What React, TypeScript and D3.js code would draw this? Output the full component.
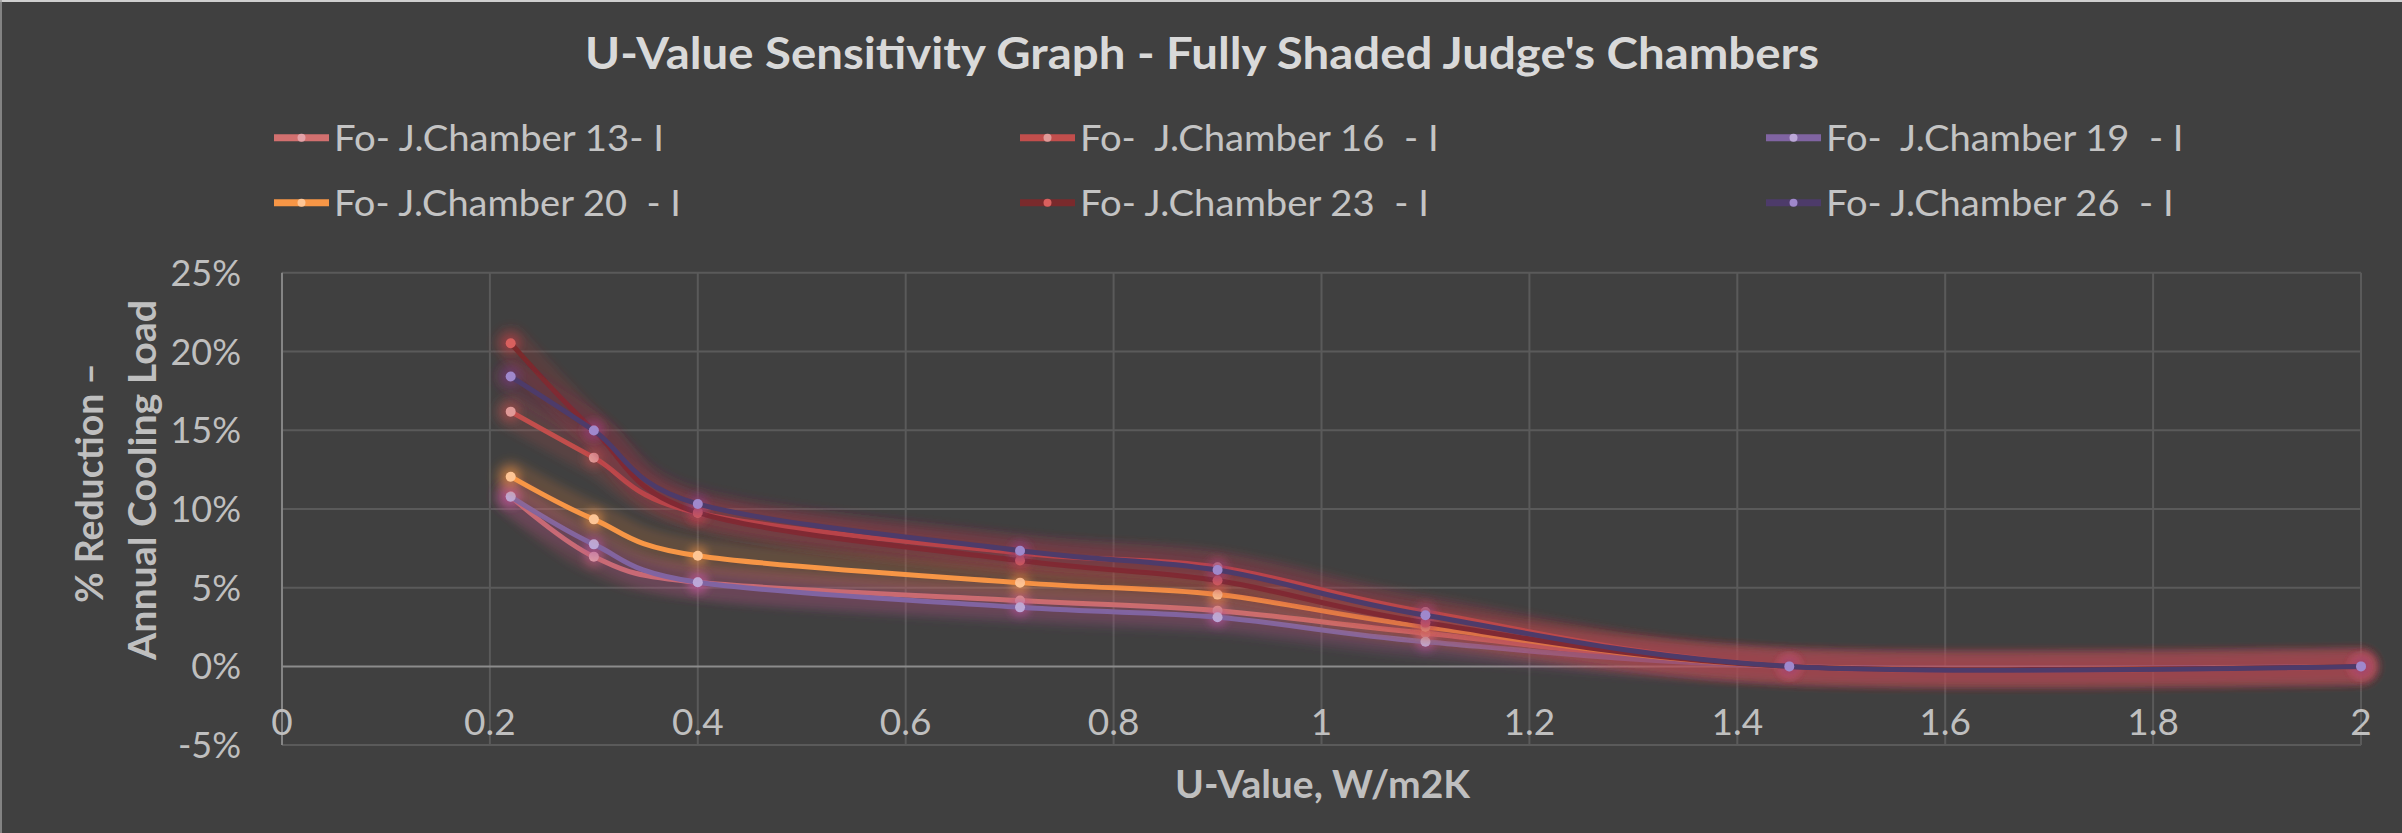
import React from 'react';
import * as d3 from 'd3';

const W = 2402;
const H = 833;

// ---- data ----
const uValues = [0.22, 0.3, 0.4, 0.71, 0.9, 1.1, 1.45, 2.0];
const seriesNames = [
  'Fo- J.Chamber 13- I',
  'Fo-  J.Chamber 16  - I',
  'Fo-  J.Chamber 19  - I',
  'Fo- J.Chamber 20  - I',
  'Fo- J.Chamber 23  - I',
  'Fo- J.Chamber 26  - I',
];
const ch13 = [10.8, 6.97, 5.34, 4.18, 3.54, 2.1, 0, 0];
const ch16 = [16.18, 13.26, 9.75, 7.2, 6.3, 3.45, 0, 0];
const ch19 = [10.78, 7.75, 5.34, 3.75, 3.12, 1.57, 0, 0];
const ch20 = [12.05, 9.34, 7.03, 5.32, 4.56, 2.52, 0, 0];
const ch23 = [20.53, 15.0, 9.77, 6.72, 5.45, 2.78, 0, 0];
const ch26 = [18.41, 14.98, 10.32, 7.35, 6.12, 3.25, 0, 0];
const seriesValues = [ch13, ch16, ch19, ch20, ch23, ch26];

const xTicks = [0, 0.2, 0.4, 0.6, 0.8, 1, 1.2, 1.4, 1.6, 1.8, 2];
const xTickLabels = ['0', '0.2', '0.4', '0.6', '0.8', '1', '1.2', '1.4', '1.6', '1.8', '2'];
const yTicks = [-5, 0, 5, 10, 15, 20, 25];
const yTickLabels = ['-5%', '0%', '5%', '10%', '15%', '20%', '25%'];

const titleText = "U-Value Sensitivity Graph - Fully Shaded Judge's Chambers";
const xTitle = 'U-Value, W/m2K';
const yTitle1 = '% Reduction –';
const yTitle2 = 'Annual Cooling Load';

// ---- styles ----
const lineColors = ['#D2706F', '#C24E4C', '#8064A2', '#F79646', '#7A2A2C', '#4D3B6A'];
const markerColors = ['#E3A2A8', '#E09A98', '#BCA8D8', '#FDC595', '#D9605E', '#9F88CC'];
const glowColors = ['#C8506E', '#C0504D', '#A04A90', '#E8843E', '#B8303C', '#962E4E'];
const markerGlowColors = ['#D0607E', '#C0504D', '#B050A0', '#F79646', '#C8404A', '#7A3C8C'];

const legendCols = [274, 1020, 1766];
const legendRows = [137.7, 202.7];
const legendTextLen = [330, 358.6, 357.5, 347, 349, 347.6];

const FONT = 'Lato, "Open Sans", sans-serif';

export default function App() {
  const x = d3.scaleLinear().domain([0, 2]).range([282, 2361]);
  const y = d3.scaleLinear().domain([-5, 25]).range([745.1, 272.8]);
  const line = d3
    .line<number>()
    .x((_, i) => x(uValues[i]))
    .y((d) => y(d))
    .curve(d3.curveCardinal.tension(0));

  return (
    <svg
      width={W}
      height={H}
      viewBox={`0 0 ${W} ${H}`}
      style={{ position: 'absolute', left: 0, top: 0, display: 'block' }}
    >
      <defs>
        <filter id="glow" filterUnits="userSpaceOnUse" x={0} y={0} width={W} height={H}>
          <feGaussianBlur stdDeviation={4} />
        </filter>
        <filter id="glowSmall" filterUnits="userSpaceOnUse" x={0} y={0} width={W} height={H}>
          <feGaussianBlur stdDeviation={4} />
        </filter>
      </defs>
      <rect x={0} y={0} width={W} height={H} fill="#404040" />
      <line x1={0} y1={1} x2={W} y2={1} stroke="#CFCFCF" strokeWidth={2} />
      <line x1={1} y1={0} x2={1} y2={H} stroke="#9A9A9A" strokeWidth={1.5} />

      {/* title */}
      <text
        x={585}
        y={69}
        fontFamily={FONT}
        fontWeight={700}
        fontSize={43}
        fill="#D9D9D9"
        textLength={1234}
        lengthAdjust="spacingAndGlyphs"
      >
        {titleText}
      </text>

      {/* legend */}
      {seriesNames.map((name, i) => {
        const lx = legendCols[i % 3];
        const ly = legendRows[Math.floor(i / 3)];
        return (
          <g key={name}>
            <line x1={lx} x2={lx + 55} y1={ly} y2={ly} stroke={lineColors[i]} strokeWidth={7} />
            <circle cx={lx + 27.5} cy={ly} r={4} fill={markerColors[i]} />
            <text
              x={lx + 60}
              y={ly + 13}
              fontFamily={FONT}
              fontSize={37}
              fill="#C4C4C4"
              style={{ whiteSpace: 'pre' }}
              textLength={legendTextLen[i]}
              lengthAdjust="spacingAndGlyphs"
            >
              {name}
            </text>
          </g>
        );
      })}

      {/* gridlines */}
      {yTicks
        .filter((t) => t !== 0)
        .map((t) => (
          <line key={'gy' + t} x1={x(0)} x2={x(2)} y1={y(t)} y2={y(t)} stroke="#5A5A5A" strokeWidth={2} />
        ))}
      {xTicks
        .filter((t) => t !== 0)
        .map((t) => (
          <line key={'gx' + t} x1={x(t)} x2={x(t)} y1={y(25)} y2={y(-5)} stroke="#5A5A5A" strokeWidth={2} />
        ))}
      {/* axes */}
      <line x1={x(0)} x2={x(0)} y1={y(25)} y2={y(-5)} stroke="#858585" strokeWidth={2} />
      <line x1={x(0)} x2={x(2)} y1={y(0)} y2={y(0)} stroke="#8C8C8C" strokeWidth={2} />

      {/* y tick labels */}
      {yTicks.map((t, i) => (
        <text
          key={'yl' + t}
          x={241}
          y={y(t) + 13}
          textAnchor="end"
          fontFamily={FONT}
          fontSize={36}
          fill="#BFBFBF"
        >
          {yTickLabels[i]}
        </text>
      ))}
      {/* x tick labels */}
      {xTicks.map((t, i) => (
        <text
          key={'xl' + t}
          x={x(t)}
          y={735}
          textAnchor="middle"
          fontFamily={FONT}
          fontSize={37}
          fill="#BFBFBF"
        >
          {xTickLabels[i]}
        </text>
      ))}

      {/* axis titles */}
      <text
        x={1175}
        y={798}
        fontFamily={FONT}
        fontWeight={700}
        fontSize={39}
        fill="#BFBFBF"
        textLength={295}
        lengthAdjust="spacingAndGlyphs"
      >
        {xTitle}
      </text>
      <text
        transform="translate(103,603) rotate(-90)"
        fontFamily={FONT}
        fontWeight={700}
        fontSize={38}
        fill="#BFBFBF"
        textLength={240}
        lengthAdjust="spacingAndGlyphs"
      >
        {yTitle1}
      </text>
      <text
        transform="translate(156,660) rotate(-90)"
        fontFamily={FONT}
        fontWeight={700}
        fontSize={38}
        fill="#BFBFBF"
        textLength={360}
        lengthAdjust="spacingAndGlyphs"
      >
        {yTitle2}
      </text>

      {/* series */}
      {seriesValues.map((vals, i) => (
        <g key={'s' + i}>
          <path
            d={line(vals) || ''}
            fill="none"
            stroke={glowColors[i]}
            strokeWidth={34}
            strokeOpacity={0.2}
            strokeLinecap="round"
            filter="url(#glow)"
          />
          {vals.map((v, j) => (
            <circle
              key={'g' + j}
              cx={x(uValues[j])}
              cy={y(v)}
              r={10}
              fill={markerGlowColors[i]}
              fillOpacity={0.5}
              filter="url(#glowSmall)"
            />
          ))}
          <path d={line(vals) || ''} fill="none" stroke={lineColors[i]} strokeWidth={5} strokeLinecap="round" />
          {vals.map((v, j) => (
            <circle key={'m' + j} cx={x(uValues[j])} cy={y(v)} r={5} fill={markerColors[i]} />
          ))}
        </g>
      ))}
    </svg>
  );
}
